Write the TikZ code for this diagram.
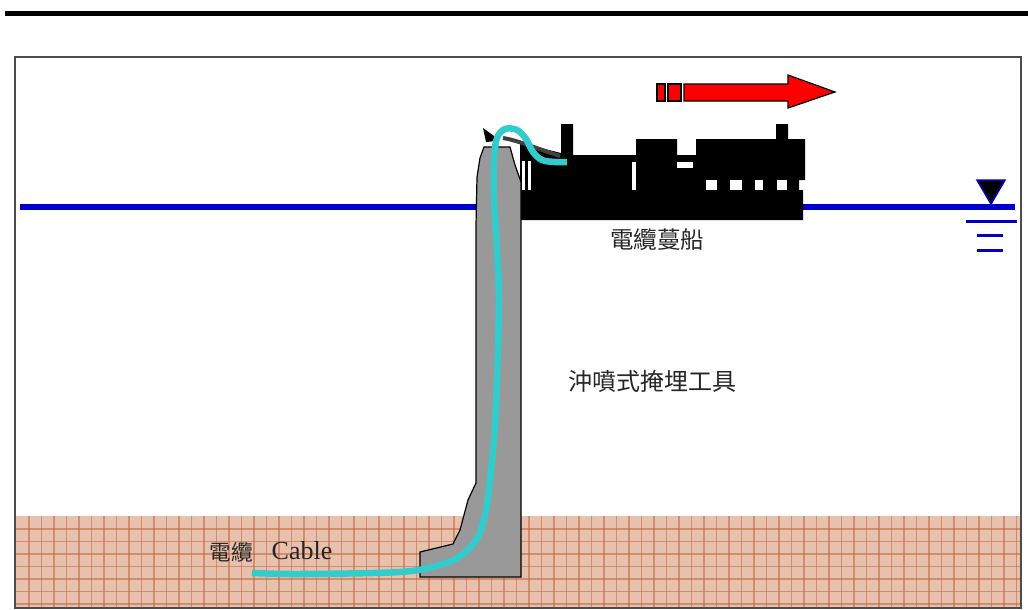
\documentclass[tikz,border=0pt]{standalone}
\usepackage{fontspec}
\setmainfont{Liberation Serif}
\newfontfamily\cjk{Noto Sans CJK TC}
\usepackage{tikz}
\definecolor{seablue}{HTML}{0000CC}
\definecolor{cablecyan}{HTML}{33CCCC}
\definecolor{toolgray}{HTML}{999999}
\definecolor{sandbase}{HTML}{E8C0AE}
\definecolor{sandline}{HTML}{C26C40}
\definecolor{arrowred}{HTML}{FF0000}

\begin{document}
\begin{tikzpicture}[x=1pt, y=-1pt,
    txt/.style={inner sep=0pt, text=black!85},
    outline/.style={draw=black, line width=1.2pt}
]
  \useasboundingbox (0,0) rectangle (1028,610);

  % Balken oben
  \fill[black] (5,11) rectangle (1028,16);

  % Rahmen
  \draw[black!70, line width=1.6pt] (15,57) rectangle (1021,608);

  % Meeresboden mit Raster
  \fill[sandbase] (16,516) rectangle (1020,607);
  \foreach \x in {29,41.5,...,1020}
    \draw[sandline, line width=1.4pt, opacity=0.6] (\x,516) -- (\x,607);
  \foreach \y in {529,541.5,...,607}
    \draw[sandline, line width=1.4pt, opacity=0.6] (16,\y) -- (1020,\y);

  % Wasserlinie
  \draw[seablue, line width=5.5pt] (20,207) -- (1015,207);

  % Schiff
  \fill[black] (520,143) -- (561,153) -- (561,124) -- (573,124) -- (573,155)
    -- (636,155) -- (636,139) -- (677,139) -- (677,155) -- (696,155)
    -- (696,139) -- (776,139) -- (776,124) -- (788,124) -- (788,139)
    -- (805,139) -- (805,180) -- (799,180) -- (799,190) -- (803,190)
    -- (803,220) -- (520,220) -- cycle;
  \fill[white] (522,161) rectangle (525,190);
  \fill[white] (528,161) rectangle (531,190);
  \fill[white] (632,162) rectangle (636,190);
  \fill[white] (677,162) rectangle (693,168);
  \foreach \x/\w in {706/11, 730/12, 755/8, 777/10}
    \fill[white] (\x,180) rectangle ++(\w,10);

  % Spuelwerkzeug
  \filldraw[fill=toolgray, outline] (484,147) -- (510,147) -- (515,165)
    -- (521,182) -- (521,577) -- (420,577) -- (420,552) -- (453,544)
    -- (460,530) -- (468,500) -- (476,483) -- (476,225) -- (477,177)
    -- (480,158) -- cycle;
  \fill[black] (483,128) -- (494,136) -- (497,141) -- (486,142) -- cycle;
  \draw[black!75, line width=4pt] (503,138) .. controls (520,141) and (535,148) .. (560,156);

  % Kabel
  \draw[cablecyan, line width=6.5pt] plot[smooth, tension=0.55] coordinates {
    (567,162) (555,162) (542,160) (533,152) (526,139) (517,130) (505,129)
    (497,138) (494,160) (494,200) (497,250) (499,300) (497,380) (494,440)
    (490,480) (486,510) (478,537) (462,555) (440,565) (400,572) (300,574)
    (252,573)};

  % Fahrtrichtung
  \filldraw[fill=arrowred, outline] (657,84) rectangle (665,101);
  \filldraw[fill=arrowred, outline] (668,84) rectangle (681,101);
  \filldraw[fill=arrowred, outline] (684,84) -- (788,84) -- (788,75) -- (835,92)
    -- (788,108) -- (788,101) -- (684,101) -- cycle;

  % Wasserspiegel-Symbol
  \filldraw[fill=black, draw=seablue, line width=1.5pt] (977,180) -- (1005,180) -- (991,204) -- cycle;
  \draw[seablue, line width=3pt] (966,221.5) -- (1017,221.5);
  \draw[seablue, line width=3pt] (977,235.5) -- (1003,235.5);
  \draw[seablue, line width=3pt] (977,250.5) -- (1003,250.5);

  % Beschriftungen
  \node[txt, font=\cjk\fontsize{23.5}{26}\selectfont] (shiplbl) at (657,240) {電纜蔓船};
  \node[txt, font=\cjk\fontsize{24}{26}\selectfont] (toollbl) at (652,381) {沖噴式掩埋工具};
  \node[txt, font=\cjk\fontsize{21.5}{24}\selectfont] (cablezh) at (231,552) {電纜};
  \node[txt, font=\fontsize{26}{28}\selectfont] (cableen) at (302,551) {Cable};

\end{tikzpicture}
\end{document}
